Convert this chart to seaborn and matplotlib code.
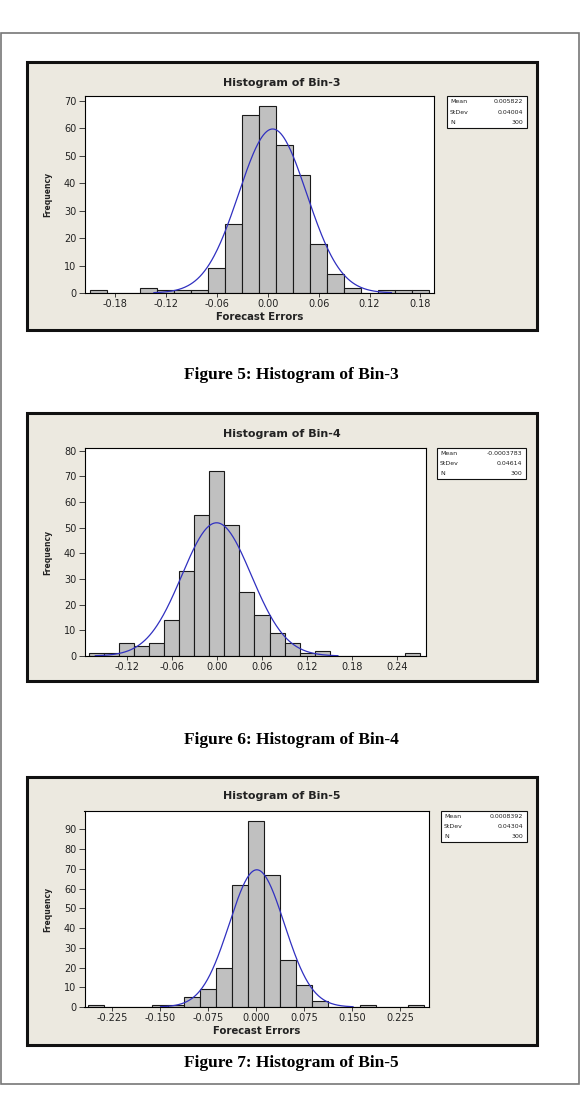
import numpy as np
import pandas as pd
import matplotlib
matplotlib.use("Agg")
import matplotlib.pyplot as plt
from matplotlib.patches import Rectangle
import seaborn as sns

# Set plotting style
sns.set_theme(style="white")
plt.rcParams['font.family'] = ['DejaVu Sans']

# ---- data ----
bin3_centers = [-0.20, -0.18, -0.16, -0.14, -0.12, -0.10, -0.08, -0.06, -0.04, -0.02,
                0.00, 0.02, 0.04, 0.06, 0.08, 0.10, 0.12, 0.14, 0.16, 0.18]
bin3_counts = [1, 0, 0, 2, 1, 1, 1, 9, 25, 65, 68, 54, 43, 18, 7, 2, 0, 1, 1, 1]
bin3_stats = {"Mean": 0.005822, "StDev": 0.04004, "N": 300}
bin3_xticks = [-0.18, -0.12, -0.06, 0.00, 0.06, 0.12, 0.18]

bin4_centers = [-0.16, -0.14, -0.12, -0.10, -0.08, -0.06, -0.04, -0.02, 0.00, 0.02, 0.04,
                0.06, 0.08, 0.10, 0.12, 0.14, 0.16, 0.18, 0.20, 0.22, 0.24, 0.26]
bin4_counts = [1, 1, 5, 4, 5, 14, 33, 55, 72, 51, 25, 16, 9, 5, 1, 2, 0, 0, 0, 0, 0, 1]
bin4_stats = {"Mean": -0.0003783, "StDev": 0.04614, "N": 300}
bin4_xticks = [-0.12, -0.06, 0.00, 0.06, 0.12, 0.18, 0.24]

bin5_centers = [-0.250, -0.225, -0.200, -0.175, -0.150, -0.125, -0.100, -0.075, -0.050,
                -0.025, 0.000, 0.025, 0.050, 0.075, 0.100, 0.125, 0.150, 0.175, 0.200,
                0.225, 0.250]
bin5_counts = [1, 0, 0, 0, 1, 1, 5, 9, 20, 62, 94, 67, 24, 11, 3, 0, 0, 1, 0, 0, 1]
bin5_stats = {"Mean": 0.0008392, "StDev": 0.04304, "N": 300}
bin5_xticks = [-0.225, -0.150, -0.075, 0.000, 0.075, 0.150, 0.225]

W, H = 583, 1115
FRAME_BG = "#ECE9E0"


def fig_rect(x0, y0, x1, y1):
    """pixel box (top-left origin) -> figure fraction [left, bottom, w, h]"""
    return [x0 / W, 1 - y1 / H, (x1 - x0) / W, (y1 - y0) / H]


def px_text(fig, x, y, s, **kw):
    fig.text(x / W, 1 - y / H, s, **kw)


def draw_panel(fig, lay, centers, counts, width, stats, xticks, xfmt, yticks, title, xlabel):
    """One Minitab style histogram with fitted normal curve."""
    # grey frame of the Minitab graph window (kept behind the axes)
    l, b, w, h = fig_rect(*lay["frame"])
    fig.add_artist(Rectangle((l, b), w, h, transform=fig.transFigure, zorder=-5,
                             facecolor=FRAME_BG, edgecolor="#111111", lw=2.2))

    ax = fig.add_axes(fig_rect(*lay["plot"]))
    ax.set_facecolor("white")

    df = pd.DataFrame({"error": centers, "count": counts})
    lo = centers[0] - width / 2
    hi = centers[-1] + width / 2
    sns.histplot(data=df, x="error", weights="count", binwidth=width, binrange=(lo, hi),
                 ax=ax, color="#C0C0C0", edgecolor="#1a1a1a", linewidth=0.8, alpha=1)

    # fitted normal curve from the reported stats
    mu, sd, n = stats["Mean"], stats["StDev"], stats["N"]
    xs = np.linspace(mu - 3.5 * sd, mu + 3.5 * sd, 300)
    ys = n * width * np.exp(-0.5 * ((xs - mu) / sd) ** 2) / (sd * np.sqrt(2 * np.pi))
    sns.lineplot(x=xs, y=ys, ax=ax, color="#3030C0", lw=0.9)

    ax.set_xlim(*lay["xlim"])
    ax.set_ylim(0, lay["ymax"])
    ax.set_xticks(xticks)
    ax.set_xticklabels([xfmt.format(t) for t in xticks])
    ax.set_yticks(yticks)
    ax.set_xlabel("")
    ax.set_ylabel("")
    ax.tick_params(axis="both", direction="out", length=3, width=0.6,
                   labelsize=7, pad=1.5, colors="#222222", bottom=True, left=True)
    ax.tick_params(axis="y", length=4, pad=2)
    for sp in ax.spines.values():
        sp.set_color("black")
        sp.set_linewidth(0.8)

    # title and axis labels
    fx0, fy0, fx1, fy1 = lay["frame"]
    px_text(fig, (fx0 + fx1) / 2, lay["title_y"], title, ha="center", va="center",
            fontsize=8, fontweight="bold", color="#222222")
    px0, py0, px1, py1 = lay["plot"]
    px_text(fig, 48, (py0 + py1) / 2, "Frequency", ha="center", va="center",
            rotation=90, fontsize=5.5, fontweight="bold", color="#222222")
    if xlabel:
        px_text(fig, (px0 + px1) / 2, lay["xlabel_y"], xlabel, ha="center", va="center",
                fontsize=7.3, fontweight="bold", color="#222222")

    # stats box
    lx0, ly0, lx1, ly1 = lay["legend"]
    l, b, w, h = fig_rect(*lay["legend"])
    fig.add_artist(Rectangle((l, b), w, h, transform=fig.transFigure,
                             facecolor="white", edgecolor="#111111", lw=0.8))
    rows = [("Mean", lay["mean_txt"]), ("StDev", f"{sd:g}"), ("N", f"{n}")]
    step = (ly1 - ly0) / 3
    for i, (k, v) in enumerate(rows):
        yy = ly0 + step * (i + 0.5)
        px_text(fig, lx0 + 3, yy, k, ha="left", va="center", fontsize=4.5, color="#222222")
        px_text(fig, lx1 - 4, yy, v, ha="right", va="center", fontsize=4.5, color="#222222")
    return ax


def main():
    fig = plt.figure(figsize=(W / 100, H / 100), dpi=100)
    fig.patch.set_facecolor("white")

    # page border
    l, b, w, h = fig_rect(1, 33, 579, 1084)
    fig.add_artist(Rectangle((l, b), w, h, transform=fig.transFigure, zorder=-10,
                             facecolor="none", edgecolor="#777777", lw=1.2))

    lay3 = dict(frame=(27, 62, 537, 330), plot=(84.5, 96, 434, 293), legend=(447, 96, 527, 128),
                title_y=83, xlabel_y=317, xlim=(-0.216, 0.196), ymax=71.8, mean_txt="0.005822")
    draw_panel(fig, lay3, bin3_centers, bin3_counts, 0.02, bin3_stats, bin3_xticks, "{:.2f}",
               range(0, 71, 10), "Histogram of Bin-3", "Forecast Errors")

    lay4 = dict(frame=(27, 413, 537, 681), plot=(84.5, 448, 426, 656), legend=(437, 448, 526, 479),
                title_y=434, xlabel_y=None, xlim=(-0.176, 0.278), ymax=81, mean_txt="-0.0003783")
    draw_panel(fig, lay4, bin4_centers, bin4_counts, 0.02, bin4_stats, bin4_xticks, "{:.2f}",
               range(0, 81, 10), "Histogram of Bin-4", None)

    lay5 = dict(frame=(27, 777, 537, 1045), plot=(84.5, 811, 429, 1007), legend=(441, 811, 527, 842),
                title_y=796, xlabel_y=1031, xlim=(-0.2685, 0.270), ymax=99.3, mean_txt="0.0008392")
    draw_panel(fig, lay5, bin5_centers, bin5_counts, 0.025, bin5_stats, bin5_xticks, "{:.3f}",
               range(0, 91, 10), "Histogram of Bin-5", "Forecast Errors")

    # captions
    cap = dict(ha="center", va="center", fontsize=12.5, fontweight="bold",
               family=["Liberation Serif", "DejaVu Serif"], color="black")
    px_text(fig, 291, 375, "Figure 5: Histogram of Bin-3", **cap)
    px_text(fig, 291, 740, "Figure 6: Histogram of Bin-4", **cap)
    px_text(fig, 291, 1063, "Figure 7: Histogram of Bin-5", **cap)

    fig.savefig("out.png", dpi=100)


if __name__ == "__main__":
    main()
